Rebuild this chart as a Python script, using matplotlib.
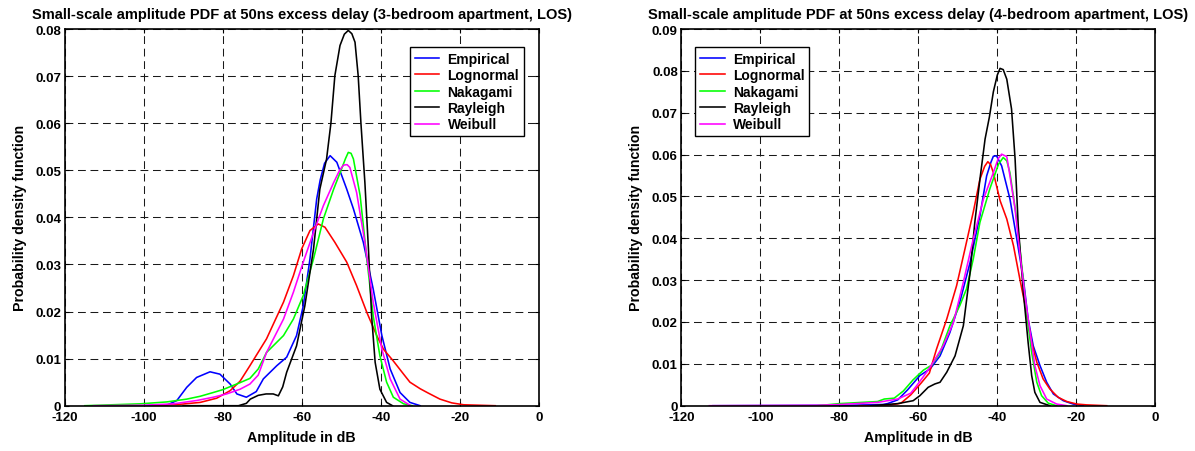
import matplotlib
matplotlib.use("Agg")
import matplotlib.pyplot as plt

# ---- data (x in dB, y = pdf) ----
# left panel: 3-bedroom apartment
emp_x_L = [-100, -94.2, -91.6, -89.1, -86.6, -83.2, -80.7, -78.1, -76.4, -74, -71.5, -69.7, -66.3,
           -63.8, -61.3, -59.6, -57.9, -56.2, -55.3, -54.2, -52.8, -51.1, -48.6, -46.9, -44.4,
           -41.9, -39.7, -37.6, -35.1, -32.6, -30]
emp_y_L = [0, 0.0001, 0.0011, 0.0039, 0.0060, 0.0072, 0.0067, 0.0046, 0.0025, 0.0018, 0.0030,
           0.0057, 0.0085, 0.0103, 0.0149, 0.0212, 0.0312, 0.0439, 0.0480, 0.0515, 0.0531, 0.0517,
           0.0460, 0.0418, 0.0347, 0.0248, 0.0149, 0.0078, 0.0028, 0.0007, 0]
logn_x_L = [-97.6, -90.8, -85.7, -81.5, -78.1, -75.6, -73.1, -68.9, -64.6, -62.1, -60, -57.9,
            -55.8, -54.1, -51.6, -48.6, -46.1, -43.5, -41, -39.3, -36.8, -34.2, -32.6, -30, -28,
            -25, -22, -19, -15, -11]
logn_y_L = [0, 0.0003, 0.0007, 0.0016, 0.0032, 0.0052, 0.0085, 0.0142, 0.0220, 0.0276, 0.0333,
            0.0372, 0.0386, 0.0379, 0.0347, 0.0305, 0.0255, 0.0198, 0.0149, 0.0120, 0.0095,
            0.0067, 0.0050, 0.0036, 0.0027, 0.0014, 0.0006, 0.0002, 0.0001, 0]
naka_x_L = [-114.9, -100.9, -94.2, -89.1, -85.7, -82.4, -80, -75.6, -73.1, -71, -68.9, -64.6,
            -62.1, -59.6, -57, -54.5, -51.9, -49.9, -48.9, -48.2, -47.5, -46.9, -45.2, -43.5,
            -41.9, -40.2, -38.5, -36.8, -34.2, -32]
naka_y_L = [0, 0.0004, 0.0008, 0.0014, 0.0020, 0.0028, 0.0034, 0.0049, 0.0058, 0.0078, 0.0113,
            0.0149, 0.0184, 0.0234, 0.0312, 0.0397, 0.0460, 0.0503, 0.0525, 0.0538, 0.0536,
            0.0524, 0.0446, 0.0312, 0.0191, 0.0106, 0.0050, 0.0018, 0.0004, 0]
rayl_x_L = [-90, -76, -74, -73, -71, -69, -67.2, -65.9, -64.8, -63.8, -61.3, -59.2, -57, -55.4,
            -53.7, -52.6, -51.6, -50.3, -49.2, -48.2, -47.3, -46.5, -45.7, -45, -44.4, -44, -43.1,
            -42.3, -41.4, -40.2, -38.5, -37]
rayl_y_L = [0, 0, 0.0005, 0.0014, 0.0022, 0.0025, 0.0025, 0.0021, 0.0040, 0.0071, 0.0127,
            0.0212, 0.0333, 0.0460, 0.0524, 0.0600, 0.0701, 0.0765, 0.0789, 0.0797, 0.0790,
            0.0772, 0.0701, 0.0600, 0.0524, 0.0474, 0.0333, 0.0191, 0.0092, 0.0035, 0.0007, 0]
weib_x_L = [-112.7, -100, -92.5, -86.6, -82.4, -79, -75.6, -73.1, -71, -68.9, -64.6, -62.1,
            -59.6, -57, -54.5, -51.9, -50.4, -49.4, -48.5, -47.8, -46.1, -44, -41.9, -39.7,
            -37.6, -35.1, -32.6]
weib_y_L = [0, 0.0001, 0.0004, 0.0011, 0.0018, 0.0025, 0.0035, 0.0046, 0.0065, 0.0113, 0.0184,
            0.0241, 0.0305, 0.0368, 0.0425, 0.0474, 0.0500, 0.0511, 0.0512, 0.0506, 0.0453,
            0.0347, 0.0220, 0.0120, 0.0057, 0.0014, 0.0001]

# right panel: 4-bedroom apartment
emp_x_R = [-112, -77.3, -68.9, -67.8, -65.2, -62.7, -59.6, -57, -54.5, -52, -49.5, -46.9, -44.4,
           -42.7, -41.6, -41, -40.2, -38.9, -36.8, -35.1, -33.4, -32.2, -30.9, -29.2, -27.5,
           -25.8, -23.3, -20.8, -18.2]
emp_y_R = [0, 0.0001, 0.0003, 0.0005, 0.0014, 0.0038, 0.0072, 0.0088, 0.0119, 0.0175, 0.0247,
           0.0342, 0.0454, 0.0549, 0.0582, 0.0596, 0.0597, 0.0573, 0.0494, 0.0400, 0.0303,
           0.0207, 0.0143, 0.0096, 0.0056, 0.0028, 0.0012, 0.0004, 0]
logn_x_R = [-75, -70, -66.9, -64.4, -61.9, -59.3, -57.2, -55.4, -52.8, -50.3, -48.2, -46.1,
            -44.4, -43.2, -42.4, -41.7, -41, -39.3, -37.6, -35.9, -34.3, -32.6, -31.3, -30,
            -28.4, -26.7, -24.6, -22.4, -19.9, -17.4, -12.3]
logn_y_R = [0, 0, 0.0002, 0.0006, 0.0026, 0.0054, 0.0078, 0.0135, 0.0207, 0.0287, 0.0374,
            0.0462, 0.0541, 0.0572, 0.0583, 0.0576, 0.0557, 0.0490, 0.0446, 0.0382, 0.0303,
            0.0223, 0.0151, 0.0104, 0.0064, 0.0040, 0.0020, 0.0010, 0.0004, 0.0002, 0]
naka_x_R = [-85.5, -80, -70.3, -68.6, -66.1, -63.8, -61.3, -58.7, -56.6, -54.5, -52, -49.5,
            -47.8, -46.1, -44.4, -41.9, -39.7, -38.5, -37.6, -36.8, -35.1, -33.8, -32.6, -31.3,
            -30, -28.8, -27.1, -25]
naka_y_R = [0, 0.0005, 0.0010, 0.0016, 0.0018, 0.0035, 0.0062, 0.0085, 0.0097, 0.0127, 0.0191,
            0.0239, 0.0279, 0.0350, 0.0438, 0.0518, 0.0577, 0.0593, 0.0585, 0.0557, 0.0446,
            0.0334, 0.0223, 0.0127, 0.0056, 0.0024, 0.0006, 0]
rayl_x_R = [-72, -65.2, -61.3, -59.6, -57.5, -55.8, -54.5, -52.8, -50.7, -48.6, -46.9, -45.7,
            -44.4, -43.1, -42, -41, -40, -39.3, -38.5, -37.6, -36.4, -35.5, -34.7, -33.4, -32.2,
            -31.3, -30.5, -29.2, -26.7]
rayl_y_R = [0, 0.0005, 0.0012, 0.0024, 0.0044, 0.0052, 0.0056, 0.0080, 0.0119, 0.0191, 0.0318,
            0.0438, 0.0541, 0.0637, 0.0690, 0.0750, 0.0790, 0.0806, 0.0803, 0.0780, 0.0709,
            0.0590, 0.0430, 0.0271, 0.0151, 0.0072, 0.0032, 0.0008, 0]
weib_x_R = [-112.9, -85.5, -79.6, -70.3, -65.2, -61.9, -60.4, -57.9, -56.2, -53.7, -51.1, -48.6,
            -46.1, -43.5, -41, -39.8, -38.9, -37.6, -36.8, -35.5, -34.3, -33, -31.7, -30.5,
            -29.2, -27.5, -25, -22.4]
weib_y_R = [0, 0.0001, 0.0003, 0.0008, 0.0016, 0.0030, 0.0048, 0.0080, 0.0104, 0.0143, 0.0199,
            0.0295, 0.0398, 0.0494, 0.0557, 0.0590, 0.0601, 0.0595, 0.0549, 0.0470, 0.0366,
            0.0263, 0.0175, 0.0096, 0.0048, 0.0016, 0.0004, 0]

series_names = ["Empirical", "Lognormal", "Nakagami", "Rayleigh", "Weibull"]
series_colors = ["#0000ff", "#ff0000", "#00ff00", "#000000", "#ff00ff"]

xticks = [-120, -100, -80, -60, -40, -20, 0]
xtick_labels = ["-120", "-100", "-80", "-60", "-40", "-20", "0"]
yticks_L = [0, 0.01, 0.02, 0.03, 0.04, 0.05, 0.06, 0.07, 0.08]
ytick_labels_L = ["0", "0.01", "0.02", "0.03", "0.04", "0.05", "0.06", "0.07", "0.08"]
yticks_R = [0, 0.01, 0.02, 0.03, 0.04, 0.05, 0.06, 0.07, 0.08, 0.09]
ytick_labels_R = ["0", "0.01", "0.02", "0.03", "0.04", "0.05", "0.06", "0.07", "0.08", "0.09"]

titles = ["Small-scale amplitude PDF at 50ns excess delay (3-bedroom apartment, LOS)",
          "Small-scale amplitude PDF at 50ns excess delay (4-bedroom apartment, LOS)"]

plt.rcParams["font.family"] = ["Liberation Sans", "DejaVu Sans"]
plt.rcParams["font.weight"] = "bold"
plt.rcParams["axes.unicode_minus"] = False


def panel(ax, curves, yticks, ylabels, title, legend_loc, legend_anchor):
    for (x, y), name, col in zip(curves, series_names, series_colors):
        ax.plot(x, y, color=col, lw=1.15, label=name)
    ax.set_xlim(-120, 0)
    ax.set_ylim(0, yticks[-1])
    ax.set_xticks(xticks)
    ax.set_xticklabels(xtick_labels)
    ax.set_yticks(yticks)
    ax.set_yticklabels(ylabels)
    ax.grid(True, color="#1a1a1a", lw=0.75, linestyle=(0, (7.5, 4.5)))
    ax.tick_params(direction="in", length=3, width=0.8, top=True, right=True,
                   labelsize=9.5)
    ax.tick_params(axis="x", pad=4)
    ax.tick_params(axis="y", pad=2.5)
    for s in ax.spines.values():
        s.set_linewidth(1.2)
    ax.set_title(title, fontsize=10.5, fontweight="bold", pad=8)
    ax.set_xlabel("Amplitude in dB", fontsize=10.2, fontweight="bold", labelpad=5)
    ax.set_ylabel("Probability density function", fontsize=10.2, fontweight="bold", labelpad=6)
    leg = ax.legend(loc=legend_loc, bbox_to_anchor=legend_anchor, fontsize=10,
                    frameon=True, fancybox=False, framealpha=1, edgecolor="black",
                    handlelength=1.75, handletextpad=0.6, labelspacing=0.17,
                    borderpad=0.35, borderaxespad=0)
    leg.get_frame().set_linewidth(1.0)


fig = plt.figure(figsize=(11.95, 4.52), dpi=100)
axL = fig.add_axes([0.0541, 0.1002, 0.3967, 0.8334])
axR = fig.add_axes([0.5701, 0.1002, 0.3967, 0.8334])

panel(axL,
      [(emp_x_L, emp_y_L), (logn_x_L, logn_y_L), (naka_x_L, naka_y_L),
       (rayl_x_L, rayl_y_L), (weib_x_L, weib_y_L)],
      yticks_L, ytick_labels_L, titles[0], "upper right", (0.969, 0.952))
panel(axR,
      [(emp_x_R, emp_y_R), (logn_x_R, logn_y_R), (naka_x_R, naka_y_R),
       (rayl_x_R, rayl_y_R), (weib_x_R, weib_y_R)],
      yticks_R, ytick_labels_R, titles[1], "upper left", (0.030, 0.952))

fig.savefig("out.png", dpi=100)
